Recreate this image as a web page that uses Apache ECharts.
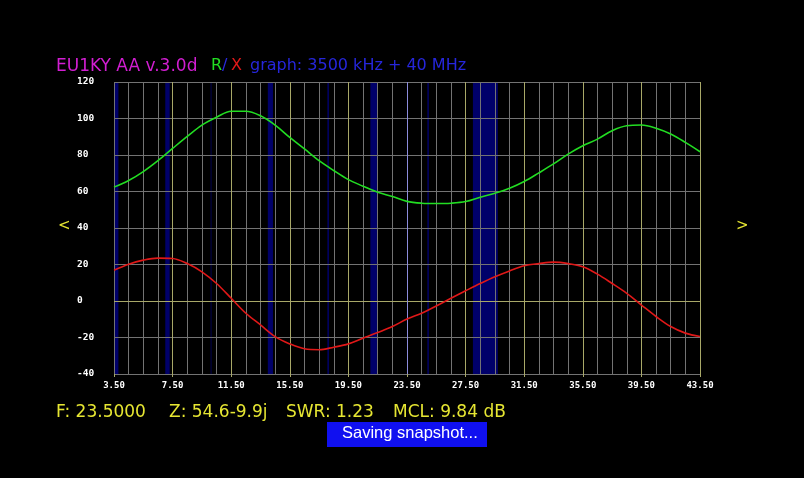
<!DOCTYPE html>
<html>
<head>
<meta charset="utf-8">
<script src="https://cdn.jsdelivr.net/npm/echarts@6/dist/echarts.min.js"></script>
<style>
html,body{margin:0;padding:0;background:#000;}
#chart{width:804px;height:478px;}
</style>
</head>
<body>
<div id="chart"></div>
<script>
// Frequencies in MHz
const freqs = [3.5,4.5,5.5,6.5,7.5,8.5,9.5,10.5,11.5,12.5,13.5,14.5,15.5,16.5,17.5,18.5,19.5,20.5,21.5,22.5,23.5,24.5,25.5,26.5,27.5,28.5,29.5,30.5,31.5,32.5,33.5,34.5,35.5,36.5,37.5,38.5,39.5,40.5,41.5,42.5,43.5];
// R (resistance), green
const rValues = [62.4,66,70.9,76.9,83.6,90.2,96.4,100.7,104,104,101.5,96.4,89.6,83.3,76.9,71.5,66.5,62.9,59.6,57.3,54.6,53.6,53.4,53.6,54.5,56.9,59.1,61.8,65.5,70.2,75.1,80.5,85.1,88.7,93.3,96,96.4,94.7,91.5,86.9,81.8];
// X (reactance), red
const xValues = [16.9,20.2,22.4,23.5,23.3,20.5,16,9.6,1.5,-6.7,-13.1,-19.5,-23.5,-26.2,-26.7,-25.3,-23.5,-20.4,-17.3,-14,-9.9,-6.7,-2.7,1.5,5.6,9.6,13.3,16.5,19.3,20.5,21.3,20.5,18.7,14.7,9.6,4.2,-2.2,-8.5,-14,-17.6,-19.5];
// Amateur band edges (MHz)
const bandStart = [3.5,7.0,10.1,14.0,18.068,21.0,24.89,28.0];
const bandEnd   = [3.8,7.3,10.15,14.35,18.168,21.45,24.99,29.7];
const cursorFreq = 23.5;
const xMin = 3.5, xMax = 43.5;
const yMin = -40, yMax = 120;

const chart = echarts.init(document.getElementById('chart'));
const gray = '#737373';
const yel = '#a8a868';
const mono = 'DejaVu Sans Mono';

const option = {
  backgroundColor: '#000000',
  animation: false,
  grid: {left: 114, top: 82, width: 586, height: 292, containLabel: false},
  xAxis: [
    {
      type: 'value', min: xMin, max: xMax, interval: 1, z: 3,
      axisLine: {show: false},
      axisTick: {show: true, length: 3, lineStyle: {color: gray}},
      axisLabel: {show: false},
      splitLine: {show: true, lineStyle: {color: gray, width: 1}}
    },
    {
      type: 'value', min: xMin, max: xMax, interval: 4, position: 'bottom', z: 4,
      axisLine: {show: false},
      axisTick: {show: true, length: 3, lineStyle: {color: yel}},
      axisLabel: {show: true, color: '#ffffff', fontFamily: mono, fontWeight: 'bold', fontSize: 9, margin: 7,
        formatter: v => v.toFixed(2)},
      splitLine: {show: true, showMinLine: false, lineStyle: {color: yel, width: 1}}
    }
  ],
  yAxis: {
    type: 'value', min: yMin, max: yMax, interval: 20, z: 3,
    axisLine: {show: false}, axisTick: {show: false},
    axisLabel: {color: '#ffffff', fontFamily: mono, fontWeight: 'bold', fontSize: 9.5, align: 'left', margin: 37},
    splitLine: {show: true, lineStyle: {color: gray, width: 1}}
  },
  series: [
    {
      type: 'line', xAxisIndex: 0, z: 1, silent: true,
      data: freqs.map((f, i) => [f, rValues[i]]),
      showSymbol: false,
      lineStyle: {opacity: 0},
      markArea: {
        silent: true, z: 1,
        itemStyle: {color: '#00006a'},
        data: bandStart.map((s, i) => [{xAxis: s}, {xAxis: bandEnd[i]}])
      }
    },
    {
      type: 'line', xAxisIndex: 0, z: 5, silent: true,
      data: freqs.map((f, i) => [f, 0]),
      showSymbol: false,
      lineStyle: {opacity: 0},
      markLine: {
        silent: true, symbol: 'none', label: {show: false}, z: 5,
        data: [
          {yAxis: 0, lineStyle: {color: yel, width: 1, type: 'solid'}},
          {xAxis: cursorFreq, lineStyle: {color: '#8c8cdc', width: 1, type: 'solid'}}
        ]
      }
    },
    {
      name: 'R', type: 'line', xAxisIndex: 0, z: 6, silent: true,
      data: freqs.map((f, i) => [f, rValues[i]]),
      smooth: 0.35, showSymbol: false,
      lineStyle: {color: '#22dd22', width: 1.6}
    },
    {
      name: 'X', type: 'line', xAxisIndex: 0, z: 6, silent: true,
      data: freqs.map((f, i) => [f, xValues[i]]),
      smooth: 0.35, showSymbol: false,
      lineStyle: {color: '#e01818', width: 1.6}
    }
  ],
  graphic: [
    {type: 'text', left: 56, top: 58, style: {text: 'EU1KY AA v.3.0d', fill: '#d21ed2', font: '17px "DejaVu Sans"'}},
    {type: 'text', left: 211, top: 58, style: {text: 'R', fill: '#22dd22', font: '16px "DejaVu Sans"'}},
    {type: 'text', left: 222, top: 58, style: {text: '/', fill: '#2a2ae0', font: '16px "DejaVu Sans"'}},
    {type: 'text', left: 231, top: 58, style: {text: 'X', fill: '#e01818', font: '16px "DejaVu Sans"'}},
    {type: 'text', left: 250, top: 58, style: {text: 'graph: 3500 kHz + 40 MHz', fill: '#2626dc', font: '16px "DejaVu Sans"'}},
    {type: 'text', left: 58, top: 219, style: {text: '<', fill: '#e6e632', font: '15px "DejaVu Sans"'}},
    {type: 'text', left: 736, top: 219, style: {text: '>', fill: '#e6e632', font: '15px "DejaVu Sans"'}},
    {type: 'text', left: 56, top: 404, style: {text: 'F: 23.5000', fill: '#e6e632', font: '17px "DejaVu Sans"'}},
    {type: 'text', left: 169, top: 404, style: {text: 'Z: 54.6-9.9j', fill: '#e6e632', font: '17px "DejaVu Sans"'}},
    {type: 'text', left: 286, top: 404, style: {text: 'SWR: 1.23', fill: '#e6e632', font: '17px "DejaVu Sans"'}},
    {type: 'text', left: 393, top: 404, style: {text: 'MCL: 9.84 dB', fill: '#e6e632', font: '17px "DejaVu Sans"'}},
    {type: 'rect', left: 327, top: 422, shape: {width: 160, height: 25}, style: {fill: '#1010f0'}},
    {type: 'text', left: 342, top: 425, z: 10, style: {text: 'Saving snapshot...', fill: '#ffffff', font: '16.5px "Liberation Sans"'}}
  ]
};
chart.setOption(option);
</script>
</body>
</html>
